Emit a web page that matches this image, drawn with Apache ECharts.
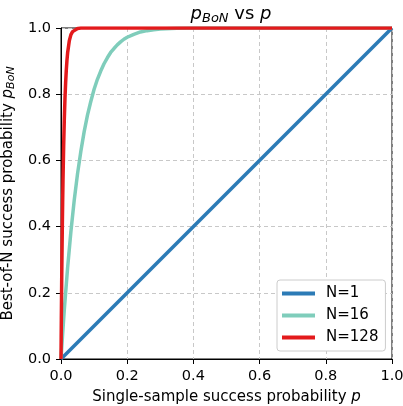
<!DOCTYPE html>
<html>
<head>
<meta charset="utf-8">
<script src="https://cdn.jsdelivr.net/npm/echarts@6/dist/echarts.min.js"></script>
<style>
  html, body { margin: 0; padding: 0; background: #fff; }
  #chart { width: 403px; height: 406px; }
</style>
</head>
<body>
<div id="chart"></div>
<script>
// Single-sample success probability p (x) against best-of-N success probability (y)
const seriesNames = ['N=1', 'N=16', 'N=128'];
const seriesColors = ['#2c7bb6', '#7fcdbb', '#e31a1c'];

const pN1 = [0, 1];
const yN1 = [0, 1];

const pN16 = [0, 0.0025, 0.005, 0.01, 0.02, 0.03, 0.04, 0.05, 0.06, 0.07, 0.08, 0.09, 0.10,
              0.11, 0.12, 0.13, 0.14, 0.15, 0.16, 0.17, 0.18, 0.19, 0.20, 0.22, 0.24,
              0.26, 0.28, 0.30, 0.35, 0.40, 0.50, 1.0];
const yN16 = [0, 0.039, 0.077, 0.149, 0.276, 0.386, 0.480, 0.560, 0.628, 0.687, 0.737, 0.778, 0.815,
              0.845, 0.870, 0.892, 0.910, 0.926, 0.938, 0.949, 0.958, 0.966, 0.972, 0.981, 0.988,
              0.992, 0.995, 0.997, 0.999, 1.0, 1.0, 1.0];

const pN128 = [0, 0.0005, 0.001, 0.002, 0.003, 0.004, 0.005, 0.006, 0.008, 0.010, 0.012, 0.014,
               0.016, 0.018, 0.020, 0.025, 0.030, 0.035, 0.040, 0.050, 0.060, 1.0];
const yN128 = [0, 0.062, 0.120, 0.226, 0.319, 0.401, 0.474, 0.537, 0.642, 0.724, 0.787, 0.835,
               0.873, 0.902, 0.925, 0.961, 0.980, 0.989, 0.995, 0.9986, 1.0, 1.0];

const tickValues = [0, 0.2, 0.4, 0.6, 0.8, 1.0];

const FONT = 'DejaVu Sans';
const pairs = (xs, ys) => xs.map((x, i) => [x, ys[i]]);
const seriesData = [pairs(pN1, yN1), pairs(pN16, yN16), pairs(pN128, yN128)];

function mathRich(size) {
  return {
    i: { fontFamily: FONT, fontStyle: 'italic', fontWeight: 'normal', fontSize: size, color: '#000' },
    s: { fontFamily: FONT, fontStyle: 'italic', fontWeight: 'normal', fontSize: Math.round(size * 0.7), color: '#000', padding: [Math.round(size * 0.45), 0, 0, 0] },
    n: { fontFamily: FONT, fontWeight: 'normal', fontSize: size, color: '#000' }
  };
}

function axisCommon() {
  return {
    type: 'value',
    min: 0,
    max: 1,
    interval: 0.2,
    axisLine: { show: true, lineStyle: { color: '#000', width: 1 } },
    axisTick: { show: true, inside: false, length: 5, lineStyle: { color: '#000', width: 1 } },
    axisLabel: {
      fontFamily: FONT, fontSize: 14.5, color: '#000', margin: 10,
      formatter: v => tickValues.some(t => Math.abs(t - v) < 1e-9) ? v.toFixed(1) : ''
    },
    splitLine: { show: true, lineStyle: { color: '#c8c8c8', width: 1, type: [4, 3] } },
    nameLocation: 'middle',
    nameTextStyle: { fontFamily: FONT, fontSize: 15, color: '#000', rich: mathRich(15) }
  };
}

const chart = echarts.init(document.getElementById('chart'), null, { renderer: 'canvas' });
chart.setOption({
  animation: false,
  backgroundColor: '#fff',
  title: {
    text: '{i|p}{s|BoN}{n| vs }{i|p}',
    left: 226,
    textAlign: 'center',
    top: -1,
    textStyle: { fontWeight: 'normal', fontSize: 18, rich: mathRich(18) }
  },
  grid: {
    left: 61, right: 11, top: 28, bottom: 47,
    outerBoundsMode: 'none',
    containLabel: false,
    show: true, borderColor: '#000', borderWidth: 1, backgroundColor: 'transparent'
  },
  xAxis: Object.assign(axisCommon(), {
    name: 'Single-sample success probability {i|p}',
    nameGap: 31
  }),
  yAxis: Object.assign(axisCommon(), {
    name: 'Best-of-N success probability {i|p}{s|BoN}',
    nameGap: 41
  }),
  legend: {
    orient: 'vertical',
    left: 277,
    top: 280,
    data: seriesNames,
    icon: 'rect',
    itemWidth: 33,
    itemHeight: 4,
    itemGap: 7,
    padding: [6, 7, 6, 5],
    backgroundColor: '#fff',
    borderColor: '#cccccc',
    borderWidth: 1,
    borderRadius: 3,
    textStyle: { fontFamily: FONT, fontSize: 15, color: '#000', padding: [0, 0, 0, 6] }
  },
  series: seriesNames.map((name, k) => ({
    name,
    type: 'line',
    data: seriesData[k],
    smooth: false,
    symbol: 'none',
    color: seriesColors[k],
    lineStyle: { color: seriesColors[k], width: 3.5, join: 'round' },
    z: 2 + k
  }))
});
</script>
</body>
</html>
